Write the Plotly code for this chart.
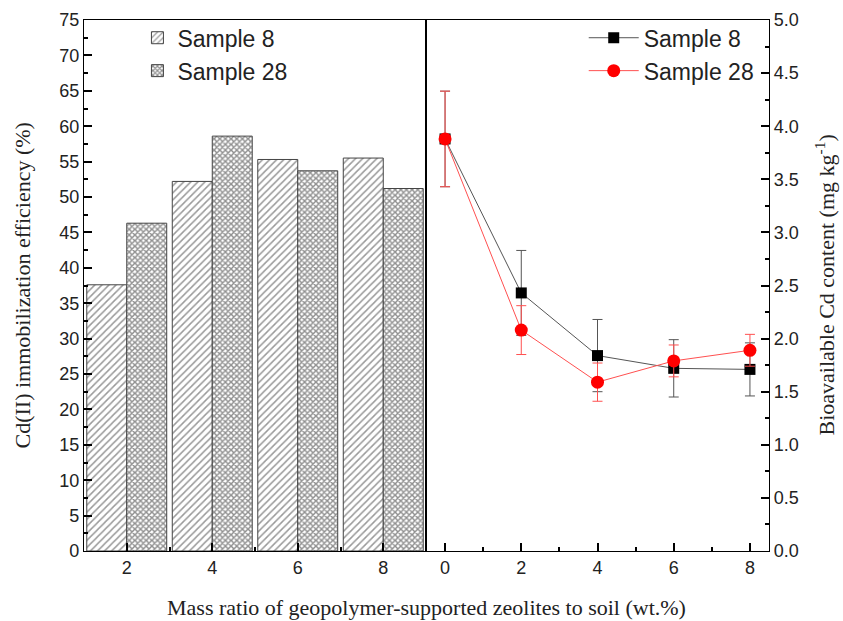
import plotly.graph_objects as go

# ---- data ----
ratio_bars = [2, 4, 6, 8]
eff_s8 = [37.6, 52.2, 55.3, 55.5]
eff_s28 = [46.3, 58.6, 53.7, 51.2]

ratio_pts = [0, 2, 4, 6, 8]
cd_s8 = [3.88, 2.43, 1.84, 1.72, 1.71]
cd_s8_err = [0.45, 0.40, 0.34, 0.27, 0.25]
cd_s28 = [3.88, 2.08, 1.59, 1.79, 1.89]
cd_s28_err = [0.45, 0.23, 0.18, 0.15, 0.15]

left_ticks = [2, 4, 6, 8]
right_ticks = [0, 2, 4, 6, 8]

SANS = "Liberation Sans, Arial, sans-serif"
SERIF = "Liberation Serif, Times New Roman, serif"

fig = go.Figure()

fig.add_trace(go.Bar(
    x=ratio_bars, y=eff_s8, name="Sample 8", xaxis="x", yaxis="y",
    marker=dict(color="white", line=dict(color="#444444", width=1),
                pattern=dict(shape="/", fgcolor="#333333", bgcolor="white", size=5, solidity=0.3)),
    legend="legend",
))
fig.add_trace(go.Bar(
    x=ratio_bars, y=eff_s28, name="Sample 28", xaxis="x", yaxis="y",
    marker=dict(color="white", line=dict(color="#444444", width=1),
                pattern=dict(shape="x", fgcolor="#222222", bgcolor="white", size=4, solidity=0.6)),
    legend="legend",
))

fig.add_trace(go.Scatter(
    x=ratio_pts, y=cd_s8, name="Sample 8", xaxis="x2", yaxis="y2", mode="lines+markers",
    line=dict(color="#555555", width=1),
    marker=dict(symbol="square", size=11, color="black"),
    error_y=dict(type="data", array=cd_s8_err, visible=True, color="#555555", thickness=1, width=5),
    legend="legend2",
))
fig.add_trace(go.Scatter(
    x=ratio_pts, y=cd_s28, name="Sample 28", xaxis="x2", yaxis="y2", mode="lines+markers",
    line=dict(color="#ff5050", width=1),
    marker=dict(symbol="circle", size=13, color="#ff0000"),
    error_y=dict(type="data", array=cd_s28_err, visible=True, color="#ff5050", thickness=1, width=5),
    legend="legend2",
))

split = (426 - 84) / (769 - 84)

axis_common = dict(showline=True, linecolor="black", linewidth=1.2, mirror=True,
                   ticks="inside", tickcolor="black", tickwidth=1.5, ticklen=8,
                   showgrid=False, zeroline=False,
                   tickfont=dict(family=SANS, size=18, color="#222222"))

fig.update_layout(
    width=843, height=621,
    margin=dict(l=84, r=74, t=20, b=70, autoexpand=False),
    paper_bgcolor="white", plot_bgcolor="white",
    barmode="group", bargap=0.065, bargroupgap=0,
    showlegend=True,
    xaxis=dict(domain=[0, split], range=[1, 9], tickmode="array", tickvals=left_ticks,
               ticktext=[str(t) for t in left_ticks],
               minor=dict(ticks="inside", tick0=1, dtick=2, ticklen=4, tickcolor="black", tickwidth=1.5),
               anchor="y", **axis_common),
    yaxis=dict(range=[0, 75], dtick=5, anchor="x",
               minor=dict(ticks="inside", dtick=2.5, ticklen=4, tickcolor="black", tickwidth=1.5),
               **axis_common),
    xaxis2=dict(domain=[split, 1], range=[-0.5, 8.5], tickmode="array", tickvals=right_ticks,
                minor=dict(ticks="inside", dtick=1, tick0=0, ticklen=4, tickcolor="black", tickwidth=1.5),
                anchor="y2", **axis_common),
    yaxis2=dict(range=[0, 5], dtick=0.5, tickformat=".1f", anchor="x2", side="right",
                minor=dict(ticks="inside", dtick=0.25, ticklen=4, tickcolor="black", tickwidth=1.5),
                **axis_common),
    legend=dict(x=0.078, y=1.007, xanchor="left", yanchor="top", bgcolor="rgba(0,0,0,0)",
                font=dict(family=SANS, size=23, color="#222222"), tracegroupgap=0),
    legend2=dict(x=0.985, y=1.007, xanchor="right", yanchor="top", bgcolor="rgba(0,0,0,0)",
                 font=dict(family=SANS, size=23, color="#222222"), itemwidth=50),
    annotations=[
        dict(text="Mass ratio of geopolymer-supported zeolites to soil (wt.%)", xref="paper", yref="paper",
             x=0.5, y=0, yshift=-56, xanchor="center", yanchor="middle", showarrow=False,
             font=dict(family=SERIF, size=22, color="#222222")),
        dict(text="Cd(II) immobilization efficiency (%)", xref="paper", yref="paper",
             x=0, y=0.5, xshift=-62, xanchor="center", yanchor="middle", textangle=-90, showarrow=False,
             font=dict(family=SERIF, size=22, color="#222222")),
        dict(text="Bioavailable Cd content (mg kg<sup>-1</sup>)", xref="paper", yref="paper",
             x=1, y=0.5, xshift=55, xanchor="center", yanchor="middle", textangle=-90, showarrow=False,
             font=dict(family=SERIF, size=22, color="#222222")),
    ],
)

fig.write_html("out.html", config={"displayModeBar": False},
               post_script="document.body.style.margin='0';")
